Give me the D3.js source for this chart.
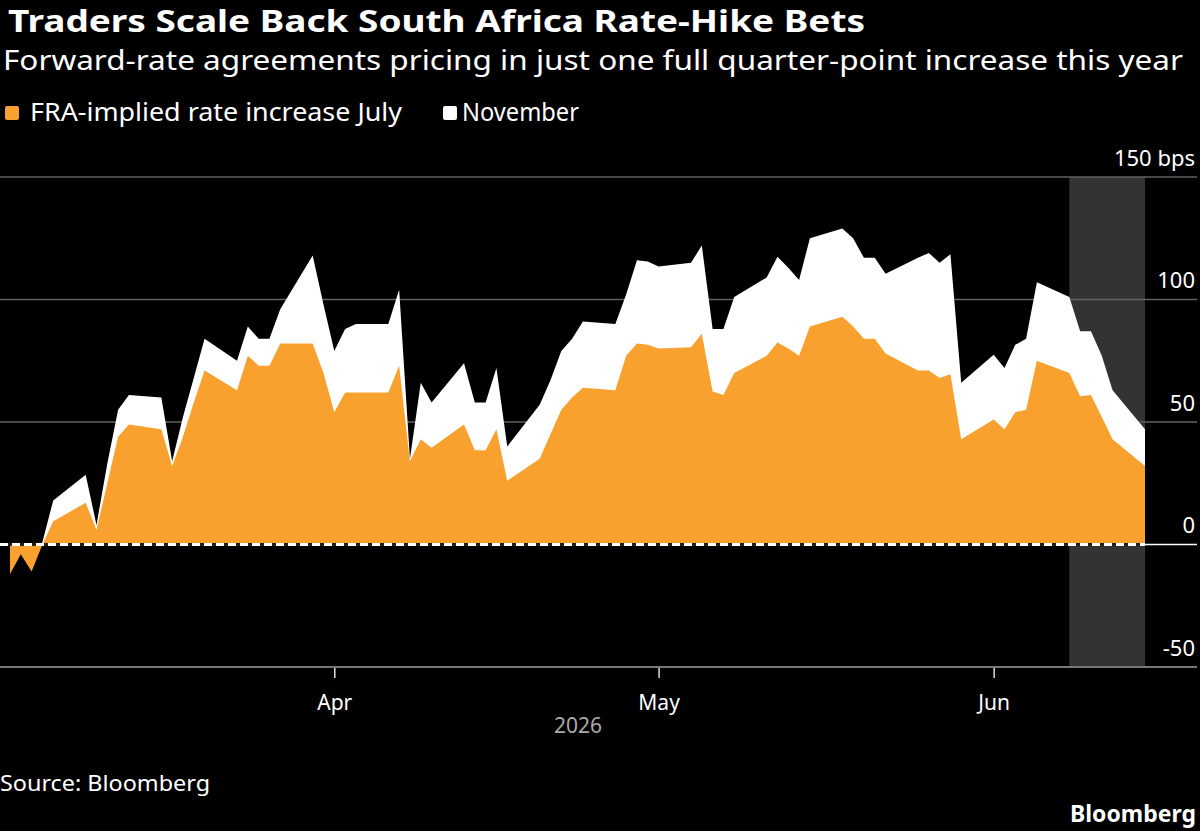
<!DOCTYPE html>
<html>
<head>
<meta charset="utf-8">
<script src="https://cdn.jsdelivr.net/npm/d3@7"></script>
<style>
  html, body { margin: 0; padding: 0; background: #000; }
  svg { display: block; font-family: "Noto Sans", "Open Sans", sans-serif; }
</style>
</head>
<body>
<div id="chart"></div>
<script>
// trading days, Mar 2 - Jun 15 2026
const dates = [
  '2026-03-02','2026-03-03','2026-03-04','2026-03-05','2026-03-06',
  '2026-03-09','2026-03-10','2026-03-11','2026-03-12','2026-03-13',
  '2026-03-16','2026-03-17','2026-03-18','2026-03-19','2026-03-20',
  '2026-03-23','2026-03-24','2026-03-25','2026-03-26','2026-03-27',
  '2026-03-30','2026-03-31','2026-04-01','2026-04-02','2026-04-03',
  '2026-04-06','2026-04-07','2026-04-08','2026-04-09','2026-04-10',
  '2026-04-13','2026-04-14','2026-04-15','2026-04-16','2026-04-17',
  '2026-04-20','2026-04-21','2026-04-22','2026-04-23','2026-04-24',
  '2026-04-27','2026-04-28','2026-04-29','2026-04-30','2026-05-01',
  '2026-05-04','2026-05-05','2026-05-06','2026-05-07','2026-05-08',
  '2026-05-11','2026-05-12','2026-05-13','2026-05-14','2026-05-15',
  '2026-05-18','2026-05-19','2026-05-20','2026-05-21','2026-05-22',
  '2026-05-25','2026-05-26','2026-05-27','2026-05-28','2026-05-29',
  '2026-06-01','2026-06-02','2026-06-03','2026-06-04','2026-06-05',
  '2026-06-08','2026-06-09','2026-06-10','2026-06-11','2026-06-12',
  '2026-06-15'
];

// FRA-implied rate increase (bps), July meeting
const july = [
  -12, -4, -11, 0, 9.5,
  17, 6, 25, 44, 49,
  47, 32, 44, 58, 71,
  63, 77, 73, 73, 82,
  82, 70, 54, 62, 62,
  62, 73, 34, 43, 39.5,
  49, 38.5, 38.5, 47, 26,
  35, 45, 55, 60, 64,
  63, 77, 82, 81.5, 80,
  80.5, 86, 62.5, 61, 70,
  77, 82.5, 80, 77, 89,
  93, 89, 84, 84, 78,
  71, 71, 68, 69.5, 43,
  51, 47, 54, 55, 75,
  70, 60.5, 61, 52, 43,
  32
];

// November meeting
const november = [
  -8, -2, -7, 1, 18,
  28.5, 8, 33, 55, 61,
  60, 34, 52, 68, 84,
  75, 89, 84, 84, 96,
  118, 98, 79, 88, 90,
  90, 104, 35, 66, 58,
  74, 58, 58, 72, 40,
  57, 67, 79, 84, 91,
  90, 102, 116, 115.5, 113.5,
  115, 122, 88, 88, 101,
  109, 117.5, 113, 108, 125,
  129, 125, 117, 117, 110.5,
  117, 119, 115, 118.5, 66,
  77.5, 72, 81.5, 84, 107,
  101, 87, 87, 77, 63,
  47
];

const yTicks = [-50, 0, 50, 100, 150];
const xTicks = ['2026-04-01', '2026-05-01', '2026-06-01'];
const shadeRange = ['2026-06-08', '2026-06-15'];
const seriesNames = ['FRA-implied rate increase July', 'November'];

const W = 1200, H = 831;
const orange = '#f9a12e';
const parse = d3.timeParse('%Y-%m-%d');

const data = dates.map((d, i) => ({ date: parse(d), july: july[i], nov: november[i] }));

const svg = d3.select('#chart').append('svg')
  .attr('width', W)
  .attr('height', H)
  .style('background', '#000');

const x = d3.scaleTime()
  .domain([parse(dates[0]), parse(dates[dates.length - 1])])
  .range([10, 1145]);

const y = d3.scaleLinear()
  .domain([-50, 150])
  .range([667, 177]);

// the reference face is narrower than Noto Sans, so squeeze text to the measured width
function squeeze(sel, target) {
  sel.attr('textLength', target).attr('lengthAdjust', 'spacingAndGlyphs');
}

// title block
svg.append('text')
  .attr('x', 8).attr('y', 32)
  .attr('fill', '#fff')
  .attr('font-size', 31)
  .attr('font-weight', 'bold')
  .text('Traders Scale Back South Africa Rate-Hike Bets')
  .call(squeeze, 857);

svg.append('text')
  .attr('x', 3).attr('y', 70)
  .attr('fill', '#fff')
  .attr('font-size', 28)
  .text('Forward-rate agreements pricing in just one full quarter-point increase this year')
  .call(squeeze, 1180);

// legend
const legend = svg.append('g').attr('transform', 'translate(0,121)');
legend.append('rect')
  .attr('x', 5).attr('y', -15).attr('width', 14).attr('height', 14)
  .attr('rx', 2).attr('fill', orange);
legend.append('text')
  .attr('x', 30).attr('y', 0)
  .attr('fill', '#fff').attr('font-size', 25)
  .text(seriesNames[0])
  .call(squeeze, 372);
legend.append('rect')
  .attr('x', 443).attr('y', -15).attr('width', 14).attr('height', 14)
  .attr('rx', 2).attr('fill', '#fff');
legend.append('text')
  .attr('x', 462).attr('y', 0)
  .attr('fill', '#fff').attr('font-size', 25)
  .text(seriesNames[1])
  .call(squeeze, 117);

// shaded period
svg.append('rect')
  .attr('x', x(parse(shadeRange[0])))
  .attr('y', y(150))
  .attr('width', x(parse(shadeRange[1])) - x(parse(shadeRange[0])))
  .attr('height', y(-50) - y(150))
  .attr('fill', '#333');

// gridlines
svg.append('g')
  .selectAll('line')
  .data(yTicks.filter(v => v !== 0))
  .join('line')
  .attr('x1', 0).attr('x2', 1197)
  .attr('y1', d => y(d)).attr('y2', d => y(d))
  .attr('stroke', d => d === -50 ? '#777' : '#626262')
  .attr('stroke-width', d => d === -50 ? 2 : 1.3);

// areas: November behind, July on top
const areaNov = d3.area()
  .x(d => x(d.date))
  .y0(y(0))
  .y1(d => y(d.nov));

const areaJul = d3.area()
  .x(d => x(d.date))
  .y0(y(0))
  .y1(d => y(d.july));

svg.append('path')
  .datum(data)
  .attr('d', areaNov)
  .attr('fill', '#fff');

svg.append('path')
  .datum(data)
  .attr('d', areaJul)
  .attr('fill', orange);

// zero line: dashed across the data, solid beyond
const xEnd = x(parse(dates[dates.length - 1]));
svg.append('line')
  .attr('x1', 0).attr('x2', xEnd)
  .attr('y1', y(0)).attr('y2', y(0))
  .attr('stroke', '#2a1d0c').attr('stroke-width', 3);
svg.append('line')
  .attr('x1', 0).attr('x2', xEnd)
  .attr('y1', y(0)).attr('y2', y(0))
  .attr('stroke', '#fff').attr('stroke-width', 3)
  .attr('stroke-dasharray', '8,4');
svg.append('line')
  .attr('x1', xEnd).attr('x2', 1197)
  .attr('y1', y(0)).attr('y2', y(0))
  .attr('stroke', '#fff').attr('stroke-width', 1.5);

// y axis labels, sitting above their lines
const yAxis = d3.axisLeft(y)
  .tickValues(yTicks)
  .tickSize(0)
  .tickFormat(d => d === 150 ? '150 bps' : d);

svg.append('g')
  .attr('transform', 'translate(1195,0)')
  .call(yAxis)
  .call(g => g.select('.domain').remove())
  .call(g => g.selectAll('text')
    .attr('x', 0)
    .attr('dy', -12)
    .attr('fill', '#fff')
    .attr('font-size', 22)
    .attr('font-family', '"Noto Sans", "Open Sans", sans-serif')
    .style('text-anchor', 'end'));

// x axis
const xAxis = d3.axisBottom(x)
  .tickValues(xTicks.map(parse))
  .tickSize(10)
  .tickFormat(d3.timeFormat('%b'));

svg.append('g')
  .attr('transform', `translate(0,${y(-50) + 1})`)
  .call(xAxis)
  .call(g => g.select('.domain').remove())
  .call(g => g.selectAll('.tick line').attr('stroke', '#ddd').attr('stroke-width', 1.5))
  .call(g => g.selectAll('text')
    .attr('y', 27)
    .attr('dy', '0.71em')
    .attr('fill', '#fff')
    .attr('font-size', 21)
    .attr('font-family', '"Noto Sans", "Open Sans", sans-serif'));

svg.append('text')
  .attr('x', 578).attr('y', 733)
  .attr('fill', '#aaa')
  .attr('font-size', 21)
  .style('text-anchor', 'middle')
  .text('2026');

// footer
svg.append('text')
  .attr('x', 0).attr('y', 791)
  .attr('fill', '#fff')
  .attr('font-size', 22)
  .text('Source: Bloomberg')
  .call(squeeze, 210);

svg.append('text')
  .attr('x', 1070).attr('y', 822)
  .attr('fill', '#fff')
  .attr('font-size', 23)
  .attr('font-weight', 'bold')
  .text('Bloomberg')
  .call(squeeze, 126);
</script>
</body>
</html>
